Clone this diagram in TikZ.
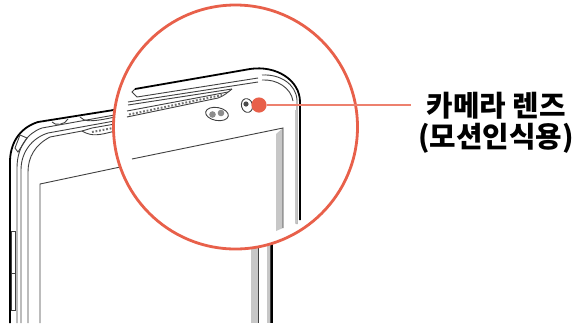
\documentclass[tikz,border=0pt]{standalone}
\usepackage{fontspec}
\newfontfamily\cjk{Noto Sans CJK KR}

\begin{document}
\begin{tikzpicture}[
    x=0.5pt, y=-0.5pt,
    hair/.style={draw=black!75, line width=0.45pt},
    heavy/.style={draw=black, line width=0.9pt},
    strip/.style={fill=black!22, draw=none},
    dots/.style={draw=black!55, line width=1pt, dash pattern=on 0.9pt off 0.9pt},
    ring/.style={draw=lensred, line width=1.4pt, fill=white},
    lens/.style={circle, fill=lensred, draw=none, minimum size=7.6pt, inner sep=0pt},
    leader/.style={draw=lensred!80, line width=0.6pt},
    callout/.style={font=\cjk\bfseries\fontsize{14.4}{17}\selectfont, align=center, inner sep=3.5pt}
]
\definecolor{lensred}{HTML}{E8604A}
\useasboundingbox (0,0) rectangle (573,323);

% Small phone
\draw[heavy] (10,323) -- (10,160) .. controls (11,140) and (22,127) .. (38,122) -- (120,109);
\draw[hair] (17,323) -- (17,168) .. controls (17,148) and (27,133) .. (42,128) -- (120,114);
\draw[hair] (21,323) -- (21,170) .. controls (21,152) and (32,138) .. (48,133) -- (120,120);
\draw[hair] (28,323) -- (28,172) .. controls (28,157) and (35,145) .. (50,137) -- (82,131);
\draw[hair] (40,323) -- (40,184) -- (125,166);
\draw[hair] (11,231) -- (15,231) -- (15,310) -- (11,310) -- cycle;
\draw[hair] (11,273) -- (15,273);
\draw[hair] (15,148) -- (20,135) -- (27,138) -- (18,152) -- cycle;
\draw[hair] (52,122) .. controls (55,126) and (65,125) .. (68,119);
\draw[hair] (80,117) .. controls (84,122) and (92,122) .. (115,117);
\draw[hair] (82,131) .. controls (92,137) and (100,135) .. (115,131);
\draw[hair] (82,131) -- (92,128) -- (115,124);
\draw[dots] (92,132) -- (113,128);

% Phone below the ring
\fill[strip] (251,240) rectangle (258,323);
\fill[strip] (267,240) rectangle (270,323);
\draw[hair] (258,240) -- (258,323);
\draw[hair] (270,240) -- (270,323);
\draw[heavy] (272,240) -- (272,323);

% Ring
\node[ring, circle, minimum size=122pt, inner sep=0pt] (ring) at (235.5,127) {};

% Large phone
\draw[heavy] (135,89) -- (250,69) .. controls (276,65) and (300,80) .. (300,102) -- (300,220);
\draw[hair] (135,89) -- (132,92) -- (137,97) -- (258,78);
\draw[hair] (128,102) -- (258,82);
\draw[hair] (128,105) -- (232,89);
\draw[hair] (262,75) .. controls (280,74) and (296,84) .. (297,100) -- (297,224);
\draw[hair] (262,80) .. controls (277,79) and (291,88) .. (293,101);
\draw[hair] (127,111) -- (228,92);
\draw[hair] (127,117) -- (218,98) .. controls (224,96) and (228,92) .. (232,89);
\draw[dots] (129,114.5) -- (222,95);
\fill[strip] (276,134) -- (283,128) -- (283,228) -- (276,231) -- cycle;
\fill[strip] (295,110) -- (297,110) -- (297,222) -- (295,224) -- cycle;
\draw[hair] (132,159) -- (283,128) -- (283,228);

% Sensors
\draw[hair, fill=white, rotate around={-10:(217,114)}] (217,114) ellipse (11.5 and 6.5);
\fill[black!45] (212.5,114.5) circle (3.3);
\fill[black!45] (221,113) circle (3.3);
\draw[hair, fill=white, rotate around={15:(247,105.5)}] (247,105.5) ellipse (5.5 and 7);
\fill[black!70] (246,104) circle (2.6);

% Callout
\node[lens] (lens) at (259,105) {};
\node[callout, anchor=west] (label) at (411,122.5) {카메라 렌즈\\[-1.5pt](모션인식용)};
\draw[leader] (lens) -- (lens -| label.west);

\end{tikzpicture}
\end{document}
